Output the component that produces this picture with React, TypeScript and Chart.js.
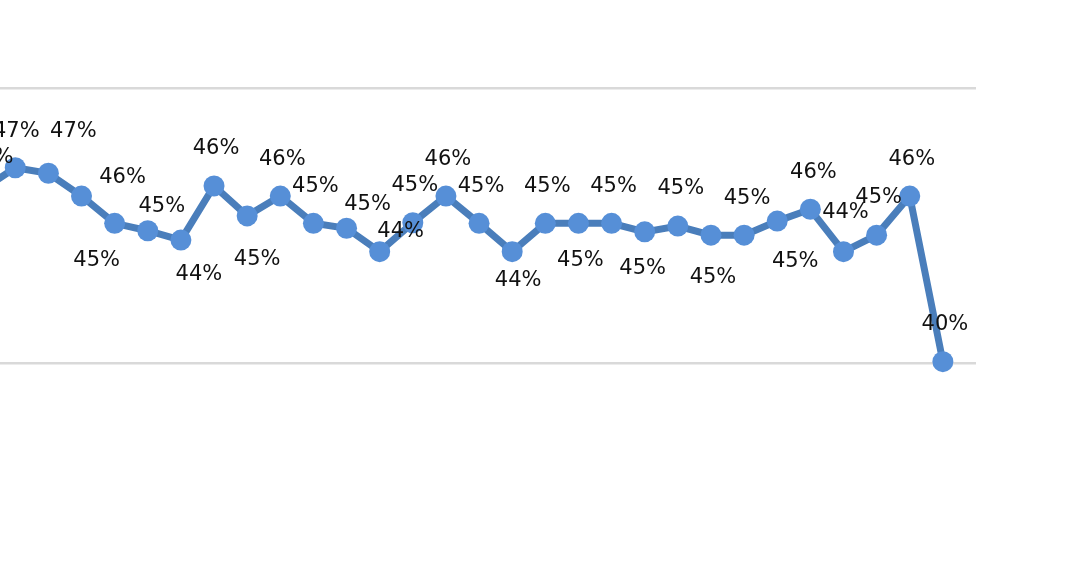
import React, { useEffect, useRef } from "react";
import { Chart, registerables } from "chart.js";

Chart.register(...registerables);

// Series values (percent), one per period; the first one lies just left of the visible crop
const shareValues = [
  46.3, 47.1, 46.9, 46.07, 45.08, 44.81, 44.47, 46.44, 45.35, 46.07,
  45.08, 44.9, 44.05, 45.1, 46.07, 45.08, 44.05, 45.08, 45.08, 45.08,
  44.77, 44.98, 44.65, 44.65, 45.16, 45.59, 44.05, 44.65, 46.07, 40.05,
];

// Data labels as shown on the chart
const shareLabels = [
  "46%", "47%", "47%", "46%", "45%", "45%", "44%", "46%", "45%", "46%",
  "45%", "45%", "44%", "45%", "46%", "45%", "44%", "45%", "45%", "45%",
  "45%", "45%", "45%", "45%", "45%", "46%", "44%", "45%", "46%", "40%",
];

// Label nudges [dx, dy] relative to each marker
const labelNudges: [number, number][] = [
  [8, -34], [1, -38], [25, -44], [41, -21], [-18, 35], [14, -26], [18, 32], [2, -40], [10, 42], [2, -39],
  [2, -39], [21, -26], [21, -22], [2, -39], [2, -39], [2, -39], [6, 27], [2, -39], [2, 35], [2, -39],
  [-2, 35], [3, -40], [2, 40], [3, -39], [18, 38], [3, -39], [2, -41], [2, -40], [2, -39], [2, -39],
];

// Y axis gridline ticks (percent)
const yMin = 30;
const yMax = 50;
const yStep = 10;

const labelPlugin = {
  id: "pointLabels",
  afterDatasetsDraw(chart: any) {
    const ctx = chart.ctx;
    const meta = chart.getDatasetMeta(0);
    ctx.save();
    ctx.font = '21px "DejaVu Sans"';
    ctx.fillStyle = "#111111";
    ctx.textAlign = "center";
    ctx.textBaseline = "alphabetic";
    meta.data.forEach((pt: any, i: number) => {
      const [dx, dy] = labelNudges[i];
      ctx.fillText(shareLabels[i], pt.x + dx, pt.y + dy + 7.6);
    });
    ctx.restore();
  },
};

export default function App() {
  const ref = useRef<HTMLCanvasElement | null>(null);

  useEffect(() => {
    if (!ref.current) return;
    const chart = new Chart(ref.current, {
      type: "line",
      data: {
        datasets: [
          {
            data: shareValues.map((v, i) => ({ x: i, y: v })),
            borderColor: "#4a7ebb",
            borderWidth: 7,
            pointRadius: 10.5,
            pointHoverRadius: 10.5,
            pointBackgroundColor: "#568fd7",
            pointBorderWidth: 0,
            tension: 0,
            clip: false as any,
          },
        ],
      },
      options: {
        animation: false,
        responsive: false,
        devicePixelRatio: 1,
        events: [],
        layout: { padding: { top: 88, left: 0, right: 0, bottom: 0 }, autoPadding: false },
        plugins: {
          legend: { display: false },
          tooltip: { enabled: false },
          title: { display: false },
        },
        scales: {
          x: {
            type: "linear",
            min: -1,
            max: 30,
            display: false,
          },
          y: {
            min: yMin,
            max: yMax,
            display: true,
            ticks: { display: false, stepSize: yStep },
            grid: { color: "#d9d9d9", lineWidth: 2.5, drawTicks: false },
            border: { display: false },
          },
        },
      },
      plugins: [labelPlugin],
    });
    return () => chart.destroy();
  }, []);

  return (
    <div
      style={{
        position: "absolute",
        left: 0,
        top: 0,
        width: 1069,
        height: 570,
        overflow: "hidden",
        background: "#ffffff",
      }}
    >
      <canvas
        ref={ref}
        width={1027}
        height={638}
        style={{ position: "absolute", left: -51, top: 0, width: 1027, height: 638 }}
      />
    </div>
  );
}
